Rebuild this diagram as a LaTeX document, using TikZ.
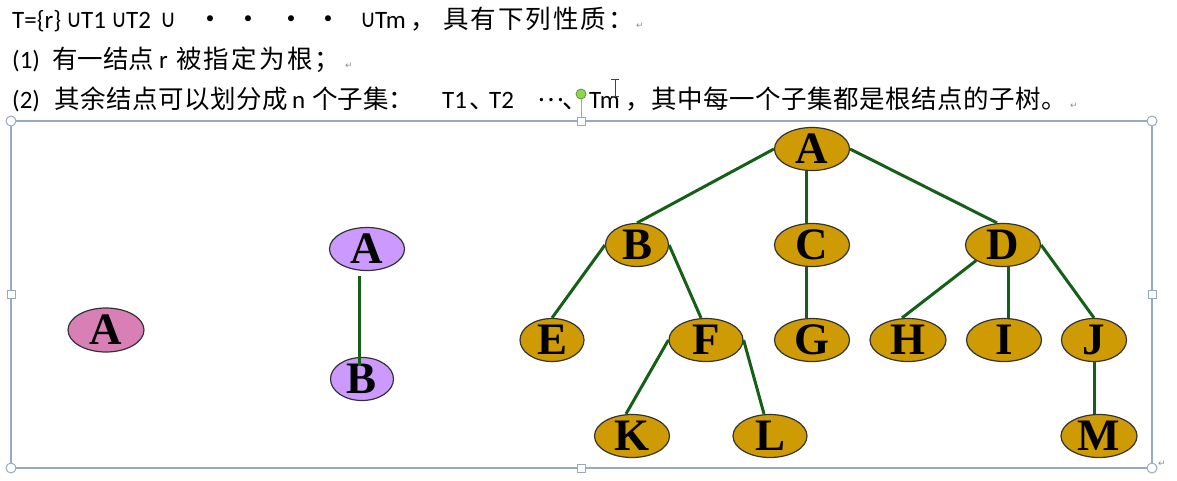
\documentclass[tikz,border=0pt]{standalone}
\usepackage{fontspec}
\usepackage{graphicx}
\setmainfont{Carlito}
\newfontfamily\cjk{Noto Sans CJK SC}
\newfontfamily\nodefont{Liberation Serif}
\newfontfamily\dejavu{DejaVu Sans}
\usetikzlibrary{shapes.geometric}
\definecolor{gold}{RGB}{206,155,5}
\definecolor{lilac}{RGB}{204,153,255}
\definecolor{rosy}{RGB}{216,127,182}
\definecolor{edgegreen}{RGB}{20,96,22}
\definecolor{framec}{RGB}{150,170,195}
\definecolor{handlegreen}{RGB}{140,215,80}
\newcommand\Ltr[1]{\makebox[0pt]{\raisebox{-0.33em}[0pt][0pt]{#1}}}
\newcommand\Cup{\raisebox{0.5pt}{\scalebox{1.15}[1.3]{\dejavu ∪}}}
\makeatletter
\newcommand\spc[2]{\@tfor\ch:=#2\do{\ch\kern#1}}
\makeatother
\begin{document}
\begin{tikzpicture}[x=1pt,y=-1pt,
  lat/.style={anchor=base west,inner sep=0,font=\fontsize{25}{28}\selectfont},
  cj/.style={anchor=base west,inner sep=0,font=\fontsize{25.5}{30}\selectfont\cjk},
  cupn/.style={anchor=base west,inner sep=0,font=\fontsize{19}{22}\selectfont},
  dotn/.style={anchor=center,inner sep=0,font=\fontsize{17}{18}\selectfont},
  ret/.style={anchor=base west,inner sep=0,text=black!45,font=\fontsize{9}{10}\selectfont\dejavu},
  tnode/.style={ellipse,draw=black!80,line width=1.2pt,inner sep=0,minimum height=43,
    font=\fontsize{45}{45}\selectfont\nodefont\bfseries},
  goldn/.style={tnode,fill=gold},
  edge/.style={draw=edgegreen,line width=3pt},
  handle/.style={draw=framec,fill=white,line width=1pt}]
\useasboundingbox (0,0) rectangle (1177,480);
\fill[white] (0,0) rectangle (1177,480);

% ---------- text lines ----------
\node[lat] (l1a) at (12,28) {T=\{r\}};
\node[cupn] (l1b) at (66,28) {\Cup};
\node[lat] (l1c) at (81,28) {T1};
\node[cupn] (l1d) at (111,28) {\Cup};
\node[lat] (l1e) at (126,28) {T2};
\node[cupn] (l1f) at (160,28) {\Cup};
\node[dotn] (d1) at (210,20) {•};
\node[dotn] (d2) at (248,20) {•};
\node[dotn] (d3) at (291,20) {•};
\node[dotn] (d4) at (328,20) {•};
\node[cupn] (l1g) at (360,28) {\Cup};
\node[lat] (l1h) at (375,28) {Tm};
\node[cj] (l1i) at (410,28) {\makebox[20pt][l]{，}};
\node[cj] (l1j) at (443,28) {\spc{2pt}{具有下列性质：}};
\node[ret] (r1) at (636,28) {↵};

\node[lat] (l2a) at (12,68) {(1)};
\node[cj] (l2b) at (52,68) {有一结点};
\node[lat] (l2c) at (159,68) {r};
\node[cj] (l2d) at (176,68) {\spc{2.2pt}{被指定为根；}};
\node[ret] (r2) at (345,68) {↵};

\node[lat] (l3a) at (12,108) {(2)};
\node[cj] (l3b) at (54,108) {\spc{0.5pt}{其余结点可以划分成}};
\node[lat] (l3c) at (292,108) {n};
\node[cj] (l3d) at (312,108) {个子集：};
\node[lat] (l3e) at (442,108) {T1};
\node[cj] (l3f) at (469,108) {\makebox[10pt][l]{、}};
\node[lat] (l3g) at (489,108) {T2};
\node[cj] (l3h) at (537,108) {\raisebox{7pt}{…}};
\node[cj] (l3i) at (562,108) {\makebox[10pt][l]{、}};
\node[lat] (l3j) at (589,108) {Tm};
\node[cj] (l3k) at (625,108) {\spc{0.5pt}{，其中每一个子集都是根结点的子树。}};
\node[ret] (r3) at (1070,108) {↵};

% ---------- canvas frame and handles ----------
\draw[framec,line width=1.2pt] (11,121) rectangle (1152,468);
\draw[framec,line width=1pt] (581,99) -- (581,118);
\filldraw[fill=handlegreen,draw=handlegreen!70!black,line width=0.8pt] (581,94) circle (5);
\foreach \p in {(11,121),(1152,121),(11,468),(1152,468)}
  \draw[handle] \p circle (5);
\foreach \p in {(581,121),(581,468),(11,294),(1152,294)}
  \draw[handle] \p ++(-4,-4) rectangle ++(8,8);
\node[ret] (r4) at (1158,466) {↵};
% text cursor
\draw[black!75,line width=0.9pt] (615,79) -- (615,96) (611,79) -- (619,79) (611,96) -- (619,96);

% ---------- single node tree ----------
\node[tnode,fill=rosy,minimum width=76,minimum height=44] (P) at (106,330) {\Ltr{A}};

% ---------- two node tree ----------
\node[tnode,fill=lilac,minimum width=75] (QA) at (367,249) {\Ltr{A}};
\node[tnode,fill=lilac,minimum width=63] (QB) at (362,379) {\Ltr{B}};
\draw[edge] ([xshift=-3pt,yshift=-5pt]QB.north |- QA.south) -- ([xshift=-3pt,yshift=-9pt]QB.north);

% ---------- big tree ----------
\node[goldn,minimum width=75] (A) at (812,149) {\Ltr{A}};
\node[goldn,minimum width=63] (B) at (637,245) {\Ltr{B}};
\node[goldn,minimum width=75] (C) at (812,245) {\Ltr{C}};
\node[goldn,minimum width=75] (D) at (1003,245) {\Ltr{D}};
\node[goldn,minimum width=64] (E) at (552,340) {\Ltr{E}};
\node[goldn,minimum width=74] (F) at (706,340) {\Ltr{F}};
\node[goldn,minimum width=75] (G) at (812,340) {\Ltr{G}};
\node[goldn,minimum width=76] (H) at (908,340) {\Ltr{H}};
\node[goldn,minimum width=75] (I) at (1004,340) {\Ltr{I}};
\node[goldn,minimum width=65] (J) at (1094,340) {\Ltr{J}};
\node[goldn,minimum width=75] (K) at (632,436) {\Ltr{K}};
\node[goldn,minimum width=74] (L) at (770,436) {\Ltr{L}};
\node[goldn,minimum width=76] (M) at (1099,436) {\Ltr{M}};

\draw[edge] (A.west) -- (B.north);
\draw[edge] ([xshift=-6pt]A.south) -- ([xshift=-6pt]C.north);
\draw[edge] (A.east) -- ([xshift=-6pt]D.north);
\draw[edge] (B.west) -- (E.north);
\draw[edge] (B.east) -- ([xshift=-5pt]F.north);
\draw[edge] ([xshift=-6pt]C.south) -- ([xshift=-6pt]G.north);
\draw[edge] (D.south west) -- ([xshift=-6pt]H.north);
\draw[edge] ([xshift=5pt]D.south) -- ([xshift=4pt]I.north);
\draw[edge] (D.east) -- (J.north);
\draw[edge] (F.west) -- ([xshift=-6pt]K.north);
\draw[edge] (F.east) -- ([xshift=-6pt]L.north);
\draw[edge] (J.south) -- (J.south |- M.north);
\end{tikzpicture}
\end{document}
